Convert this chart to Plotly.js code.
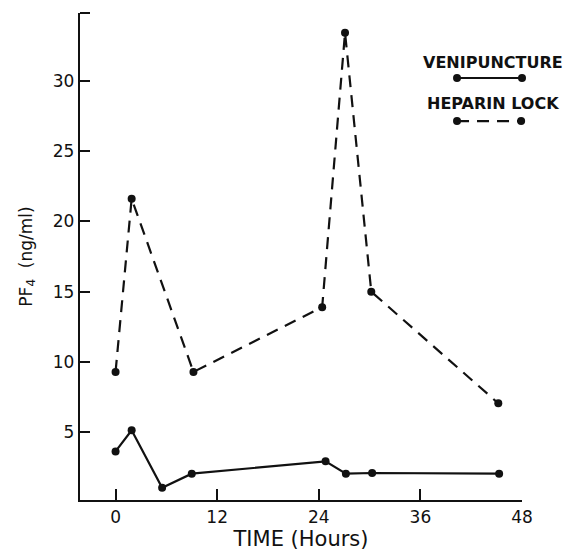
<!DOCTYPE html>
<html>
<head>
<meta charset="utf-8">
<script src="https://cdn.plot.ly/plotly-3.0.1.min.js"></script>
<style>html,body{margin:0;padding:0;background:#fff}#chart{width:567px;height:554px}</style>
</head>
<body>
<div id="chart"></div>
<script>
// Data
var veniTime = [0, 1.9, 5.5, 9.0, 24.8, 27.2, 30.3, 45.3];
var veniPF4  = [3.65, 5.15, 1.07, 2.07, 2.95, 2.07, 2.12, 2.07];
var hepTime  = [0, 1.9, 9.2, 24.4, 27.1, 30.2, 45.2];
var hepPF4   = [9.3, 21.6, 9.3, 13.9, 33.4, 15.0, 7.07];
var xTicks = [0, 12, 24, 36, 48];
var yTicks = [5, 10, 15, 20, 25, 30];
var seriesNames = ["VENIPUNCTURE", "HEPARIN LOCK"];

var FONT = "DejaVu Sans, sans-serif";
var traces = [
  {x: veniTime, y: veniPF4, mode: "lines+markers", name: seriesNames[0],
   line: {color: "#111", width: 2.2}, marker: {color: "#111", size: 8}, cliponaxis: false},
  {x: hepTime, y: hepPF4, mode: "lines+markers", name: seriesNames[1],
   line: {color: "#111", width: 2.2, dash: "12px,8px"}, marker: {color: "#111", size: 8}, cliponaxis: false}
];

function dot(xp, yp) {
  return {type: "circle", xref: "paper", yref: "paper", xsizemode: "pixel", ysizemode: "pixel",
    xanchor: xp, yanchor: yp, x0: -4, x1: 4, y0: -4, y1: 4,
    fillcolor: "#111", line: {width: 0}};
}

var layout = {
  width: 567, height: 554,
  margin: {l: 80, r: 45, t: 13, b: 54},
  paper_bgcolor: "#fff", plot_bgcolor: "#fff",
  showlegend: false,
  font: {family: FONT, color: "#111"},
  xaxis: {
    range: [-4.2, 48], tickvals: xTicks, ticktext: xTicks.map(String),
    ticks: "inside", ticklen: 11, tickwidth: 2, tickcolor: "#111",
    showline: true, linewidth: 2.2, linecolor: "#111", showgrid: false, zeroline: false,
    tickfont: {size: 17, family: FONT},
    title: {text: "TIME (Hours)", font: {size: 21, family: FONT}, standoff: 6}
  },
  yaxis: {
    range: [0.2, 34.8], tickvals: yTicks, ticktext: yTicks.map(String),
    ticks: "inside", ticklen: 10, tickwidth: 2, tickcolor: "#111",
    showline: true, linewidth: 2.2, linecolor: "#111", showgrid: false, zeroline: false,
    tickfont: {size: 17, family: FONT},
    title: {text: "PF<sub>4</sub>  (ng/ml)", font: {size: 17, family: FONT}, standoff: 16}
  },
  shapes: [
    {type: "line", xref: "paper", yref: "paper", xsizemode: "pixel", xanchor: 0, x0: 0, x1: 10, y0: 1, y1: 1,
     line: {color: "#111", width: 2}},
    {type: "line", xref: "paper", yref: "paper", x0: 0.853, x1: 1.0, y0: 0.8665, y1: 0.8665,
     line: {color: "#111", width: 2.2}},
    dot(0.853, 0.8665), dot(1.0, 0.8665),
    {type: "line", xref: "paper", yref: "paper", x0: 0.853, x1: 0.998, y0: 0.778, y1: 0.778,
     line: {color: "#111", width: 2.2, dash: "12px,8px"}},
    dot(0.853, 0.778), dot(0.998, 0.778)
  ],
  annotations: [
    {xref: "paper", yref: "paper", x: 0.934, y: 0.899, xanchor: "center", yanchor: "middle",
     text: seriesNames[0], showarrow: false, font: {size: 16, family: FONT, weight: "bold"}},
    {xref: "paper", yref: "paper", x: 0.934, y: 0.815, xanchor: "center", yanchor: "middle",
     text: seriesNames[1], showarrow: false, font: {size: 16, family: FONT, weight: "bold"}}
  ]
};

Plotly.newPlot("chart", traces, layout, {displayModeBar: false, staticPlot: true});
</script>
</body>
</html>
